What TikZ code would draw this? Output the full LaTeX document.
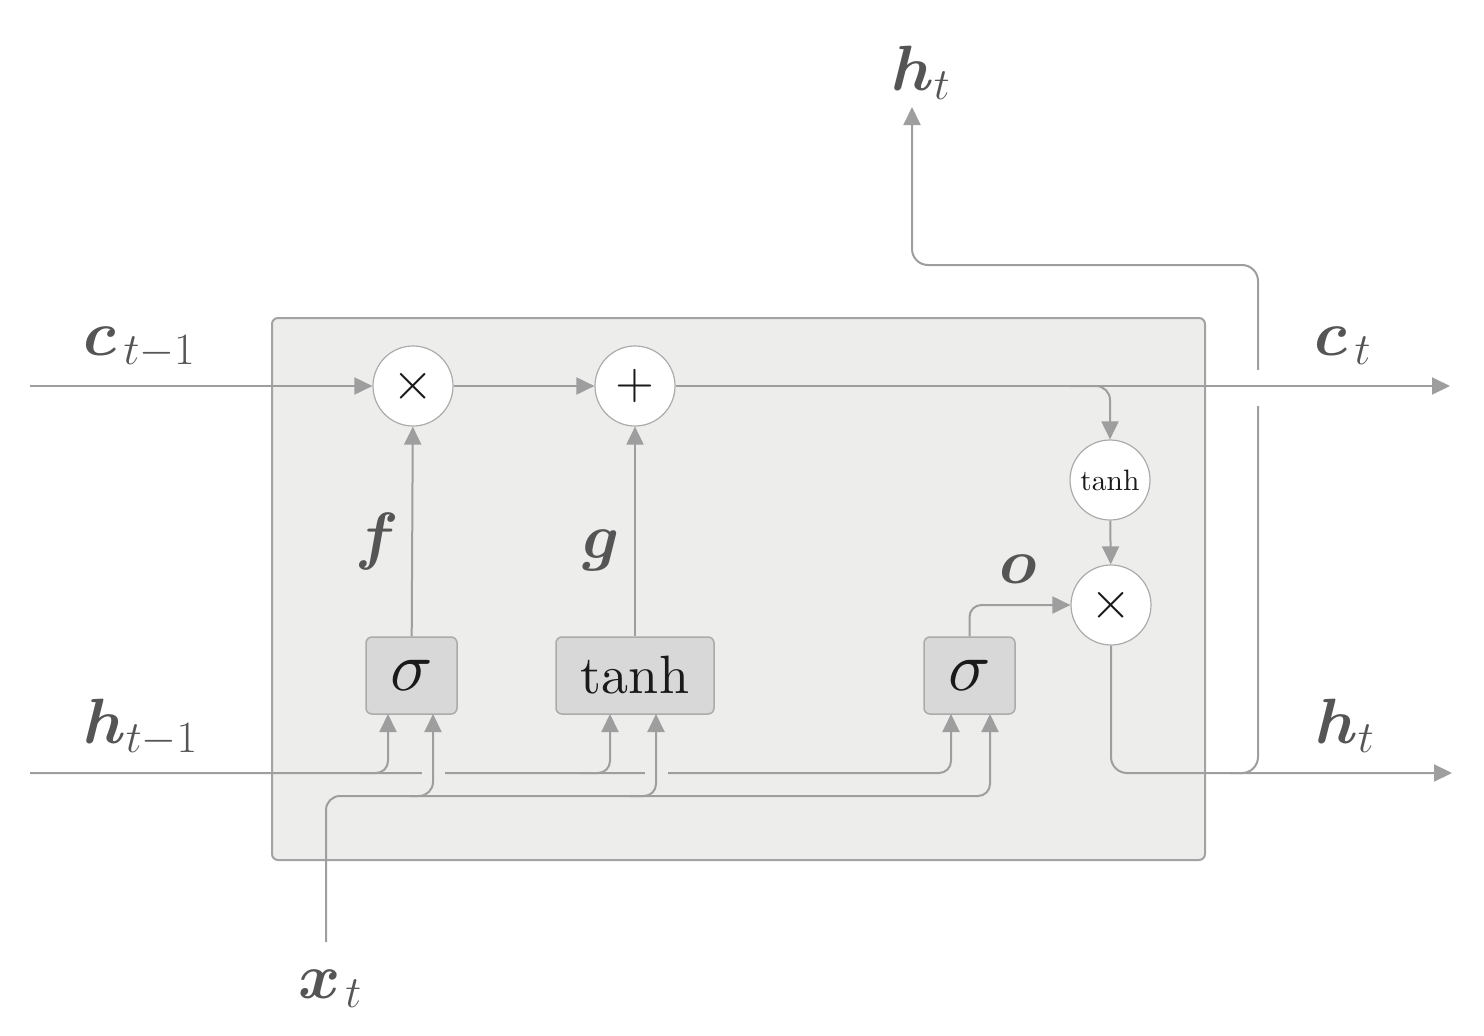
\RequirePackage{fix-cm}
\documentclass[tikz,border=0pt]{standalone}
\usepackage{graphicx}
\usepackage{amsmath,bm}
\usetikzlibrary{arrows.meta,calc}
\definecolor{ln}{HTML}{9E9E9E}
\definecolor{cellfill}{HTML}{EDEDEC}
\definecolor{cellborder}{HTML}{A3A3A3}
\definecolor{gatefill}{HTML}{D8D8D8}
\definecolor{gateborder}{HTML}{ABABAB}
\definecolor{lbl}{HTML}{555555}
\definecolor{txt}{HTML}{1A1A1A}
\tikzset{
  conn/.style={draw=ln, line width=2pt},
  arr/.style={conn, -{Triangle[length=18pt,width=17pt]}},
  circ/.style={circle, draw=gateborder, line width=1.2pt, fill=white, minimum size=80pt, inner sep=0pt, text=txt},
  gbox/.style={rectangle, rounded corners=6pt, draw=gateborder, line width=1.5pt, fill=gatefill, minimum height=77pt, inner sep=0pt, text=txt},
  lab/.style={text=lbl, inner sep=0pt, font=\fontsize{64}{70}\selectfont},
}
\begin{document}
\begin{tikzpicture}[x=1pt,y=-1pt]
\useasboundingbox (0,0) rectangle (1484,1036);
% cell
\node[draw=cellborder, fill=cellfill, line width=2pt, rounded corners=6pt, minimum width=933pt, minimum height=542pt, inner sep=0pt] (cell) at (738.5,589) {};

% gates
\node[circ] (m1) at (413,386) {\scalebox{5.3}{$\times$}};
\node[circ] (pl) at (635,386) {\scalebox{5}{$+$}};
\node[circ] (th) at (1110,480) {\scalebox{2.95}{tanh}};
\node[circ] (m2) at (1111,605) {\scalebox{5.3}{$\times$}};
\node[gbox, minimum width=91pt] (s1) at (411.5,675.5) {\raisebox{-4pt}{\scalebox{7}{$\sigma$}}};
\node[gbox, minimum width=158pt] (tb) at (635,675.5) {\scalebox{5.4}{tanh}};
\node[gbox, minimum width=91pt] (s2) at (969.5,675.5) {\raisebox{-4pt}{\scalebox{7}{$\sigma$}}};

% coordinates
\coordinate (cin) at (30,386);
\coordinate (cout) at (1450,386);
\coordinate (hin) at (30,773);
\coordinate (hout) at (1452,773);
\coordinate (xin) at (326,942);
\coordinate (htop) at (912,107);
\coordinate (s1a) at (388,714);
\coordinate (s1b) at (433,714);
\coordinate (tba) at (610,714);
\coordinate (tbb) at (656,714);
\coordinate (s2a) at (951,714);
\coordinate (s2b) at (990,714);

% h_{t-1} line and branches
\draw[arr, rounded corners=12pt] (hin) -| (s1a);
\draw[arr, rounded corners=12pt] (360,773) -| (tba);
\draw[arr, rounded corners=12pt] (580,773) -| (s2a);
% gaps in h line where x crosses
\fill[cellfill] (422,770) rectangle (445,777);
\fill[cellfill] (645,770) rectangle (668,777);
% x_t line and branches
\draw[arr, rounded corners=14pt] (xin) |- (400,796) -| (s1b);
\draw[arr, rounded corners=12pt] (410,796) -| (tbb);
\draw[arr, rounded corners=12pt] (630,796) -| (s2b);

% gate outputs
\draw[arr] (s1) -- (m1);
\draw[arr] (tb) -- (pl);
\draw[arr, rounded corners=12pt] (s2.north) |- (m2.west);
\draw[arr] (th) -- (m2);

% output h path
\draw[arr, rounded corners=16pt] (m2.south) |- (hout);
\draw[arr, rounded corners=16pt] (1230,773) -| (1258,265) -| (htop);
% gap in vertical h where c crosses
\fill[white] (1254,370) rectangle (1262,406);

% cell state line
\draw[arr] (cin) -- (m1);
\draw[arr] (m1) -- (pl);
\draw[arr] (pl) -- (cout);
\draw[arr, rounded corners=14pt] (1070,386) -| (th.north);

% labels
\node[lab, anchor=base west] (lc0) at (83,355) {$\boldsymbol{c}_{\,t-1}$};
\node[lab, anchor=base west] (lh0) at (83,743) {$\boldsymbol{h}_{t-1}$};
\node[lab, anchor=base west] (lc1) at (1314,355) {$\boldsymbol{c}_{\,t}$};
\node[lab, anchor=base west] (lh1) at (1315,743) {$\boldsymbol{h}_{t}$};
\node[lab, anchor=base west] (lh2) at (891,90) {$\boldsymbol{h}_{t}$};
\node[lab, anchor=base west] (lx) at (298,998) {$\boldsymbol{x}_{\mkern2mu t}$};
\node[lab, anchor=base] (lf) at (377,557) {$\boldsymbol{f}$};
\node[lab, anchor=base] (lg) at (601,558) {$\boldsymbol{g}$};
\node[lab, anchor=base] (lo) at (1018,583) {$\boldsymbol{o}$};
\end{tikzpicture}
\end{document}
